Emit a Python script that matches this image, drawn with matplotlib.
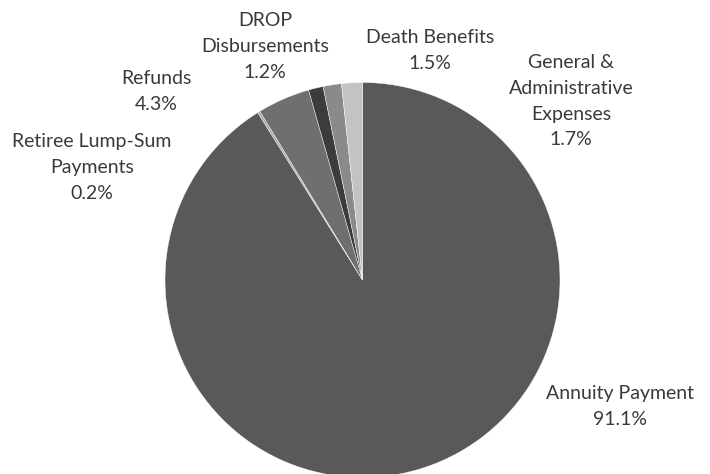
import matplotlib.pyplot as plt

plt.rcParams['font.family'] = ['Lato', 'DejaVu Sans']

categories = ["Annuity Payment", "Retiree Lump-Sum\nPayments", "Refunds",
              "DROP\nDisbursements", "Death Benefits",
              "General &\nAdministrative\nExpenses"]
shares = [91.1, 0.2, 4.3, 1.2, 1.5, 1.7]
colors = ["#595959", "#a6a6a6", "#6f6f6f", "#3c3c3c", "#8a8a8a", "#c3c3c3"]
# label anchor (centre of top line) in pixels from top-left
label_px = [(620, 393), (92, 141), (156, 78), (265, 20), (430, 37), (571, 62)]

W, H = 710, 474
fig = plt.figure(figsize=(W / 100, H / 100), dpi=100)
cx, cy, r = 362.5, 280, 197.5
ax = fig.add_axes([(cx - r) / W, (H - cy - r) / H, 2 * r / W, 2 * r / H])
ax.pie(shares, colors=colors, startangle=90, counterclock=False, radius=1,
       wedgeprops=dict(edgecolor="white", linewidth=0.3))
ax.set_xlim(-1, 1)
ax.set_ylim(-1, 1)
ax.set_aspect("equal")
ax.axis("off")

for name, val, (x, y) in zip(categories, shares, label_px):
    fig.text(x / W, 1 - (y - 8) / H, f"{name}\n{val:.1f}%", ha="center", va="top",
             fontsize=14, color="#3a3a3a", linespacing=1.63)

fig.savefig("out.png", dpi=100)
